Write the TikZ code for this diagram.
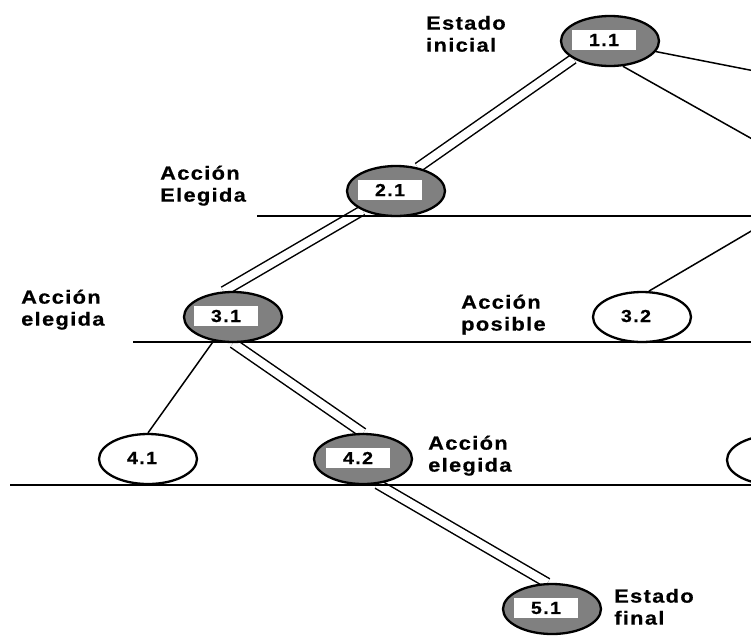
\documentclass[tikz,border=0pt]{standalone}
\usepackage{fontspec}
\usetikzlibrary{shapes.geometric,backgrounds}
\newfontfamily\labfont{Liberation Sans}[LetterSpace=7,FakeStretch=1.15,FakeBold=0.6]
\newfontfamily\numfont{Liberation Sans}[LetterSpace=8,FakeStretch=1.12,FakeBold=0.6]
\definecolor{nodegrey}{HTML}{808080}
\begin{document}
\begin{tikzpicture}[x=1pt,y=-1pt,
  st/.style={ellipse, draw=black, line width=2.3pt, minimum width=98pt, minimum height=50pt, inner sep=0pt},
  chosen/.style={st, fill=nodegrey},
  possible/.style={st, fill=white},
  numbox/.style={fill=white, minimum width=64pt, minimum height=20pt, inner sep=0pt, font=\numfont\bfseries\fontsize{17.5}{20}\selectfont},
  numtext/.style={inner sep=0pt, font=\numfont\bfseries\fontsize{17.5}{20}\selectfont},
  lab/.style={anchor=north west, inner sep=0pt, align=left, font=\labfont\bfseries\fontsize{19}{22}\selectfont},
  link/.style={draw=black, line width=1.5pt},
  dlink/.style={draw=black, line width=1.5pt, double=white, double distance=8pt},
  level/.style={draw=black, line width=1.2pt}
]
\useasboundingbox (0,0) rectangle (751,635);
\clip (0,0) rectangle (751,635);

% level lines
\coordinate (h1a) at (257,216); \coordinate (h1b) at (751,216);
\coordinate (h2a) at (133,342); \coordinate (h2b) at (751,342);
\coordinate (h3a) at (10,485);  \coordinate (h3b) at (751,485);
\draw[level] (h1a) -- (h1b);
\draw[level] (h2a) -- (h2b);
\draw[level] (h3a) -- (h3b);

% state nodes
\node[chosen] (n11) at (610,41) {};
\node[chosen] (n21) at (396,191) {};
\node[chosen] (n31) at (233,317) {};
\node[possible] (n32) at (642,317) {};
\node[possible] (n41) at (148,459) {};
\node[chosen] (n42) at (363,459) {};
\node[possible] (n43) at (776,460) {};
\node[chosen] (n51) at (552,609) {};

% labels inside nodes
\node[numbox] (b11) at (604,40) {1.1};
\node[numbox] (b21) at (390,190) {2.1};
\node[numbox] (b31) at (226,316) {3.1};
\node[numtext] (t32) at (636,316) {3.2};
\node[numtext] (t41) at (142,458) {4.1};
\node[numbox] (b42) at (358,458) {4.2};
\node[numbox] (b51) at (546,608) {5.1};

% connectors
\coordinate (r1) at (770,74);
\coordinate (r2) at (770,149);
\coordinate (r3) at (770,220);
\begin{scope}[on background layer]
\draw[dlink] (n11.206) -- (n21.47);
\draw[dlink] (n21.210) -- (n31.110);
\draw[dlink] (n31.south) -- (n42.north);
\draw[dlink] (n42.300) -- (n51.100);
\draw[link] (n31.231) -- (n41.north);
\draw[link] (n11.-13) -- (r1);
\draw[link] (n11.-63) -- (r2);
\draw[link] (r3) -- (n32.75);
\end{scope}

% text labels
\node[lab] (l1) at (426,14) {\strut Estado\\inicial};
\node[lab] (l2) at (160,164) {\strut Acción\\Elegida};
\node[lab] (l3) at (21,288) {\strut Acción\\elegida};
\node[lab] (l4) at (461,293) {\strut Acción\\posible};
\node[lab] (l5) at (428,434) {\strut Acción\\elegida};
\node[lab] (l6) at (614,587) {\strut Estado\\final};
\end{tikzpicture}
\end{document}
